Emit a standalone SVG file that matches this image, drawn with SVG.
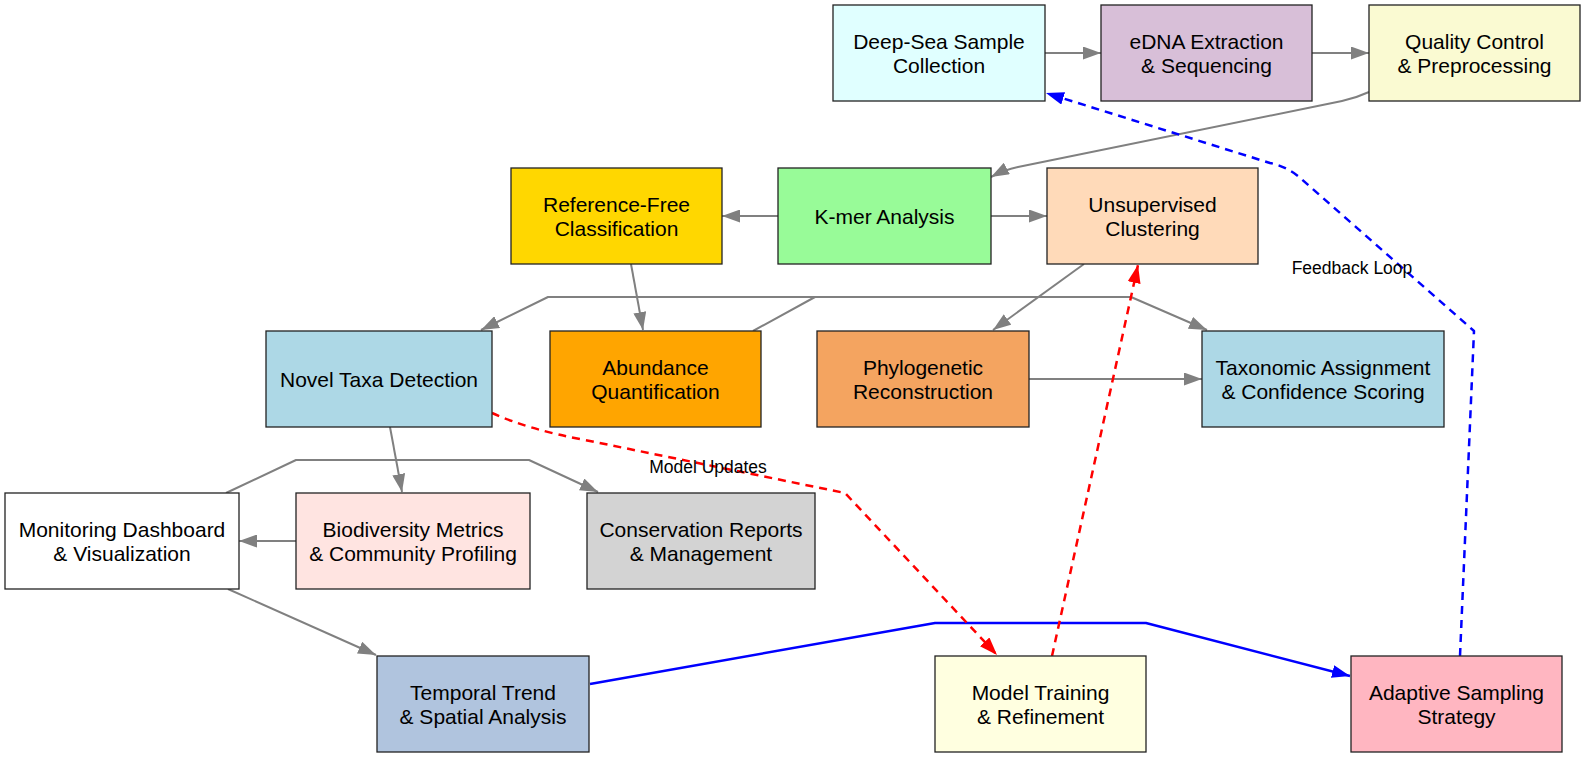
<svg xmlns="http://www.w3.org/2000/svg" width="1586" height="757" viewBox="0 0 1586 757">
<style>
.n rect{stroke:#222;stroke-width:1.3}
.n text{font-family:"Liberation Sans",Arial,sans-serif;font-size:21px;fill:#000;text-anchor:middle}
.e{fill:none;stroke-linejoin:round}
.g{stroke:#808080;stroke-width:2}
.b{stroke:#0000ff;stroke-width:2.5}
.r{stroke:#ff0000;stroke-width:2.5}
.d{stroke-dasharray:8,6}
.lbl{font-family:"Liberation Sans",Arial,sans-serif;font-size:17.5px;fill:#000;text-anchor:middle}
</style>
<defs>
<marker id="ag" markerUnits="userSpaceOnUse" markerWidth="19" markerHeight="13" refX="18" refY="6.5" orient="auto"><path d="M0,0 L18,6.5 L0,13 z" fill="#808080"/></marker>
<marker id="ab" markerUnits="userSpaceOnUse" markerWidth="19" markerHeight="13" refX="18" refY="6.5" orient="auto"><path d="M0,0 L18,6.5 L0,13 z" fill="#0000ff"/></marker>
<marker id="ar" markerUnits="userSpaceOnUse" markerWidth="19" markerHeight="13" refX="18" refY="6.5" orient="auto"><path d="M0,0 L18,6.5 L0,13 z" fill="#ff0000"/></marker>
</defs>
<rect width="1586" height="757" fill="#fff"/>
<g id="edges">
<path class="e g" d="M1045,53 L1101,53" marker-end="url(#ag)"/>
<path class="e g" d="M1312,53 L1369,53" marker-end="url(#ag)"/>
<path class="e g" d="M1369,92 Q1356,98 1342,101 L1018,167 Q1004,170 991,177" marker-end="url(#ag)"/>
<path class="e g" d="M778,216 L722,216" marker-end="url(#ag)"/>
<path class="e g" d="M991,216 L1047,216" marker-end="url(#ag)"/>
<path class="e g" d="M631,264 L643,330" marker-end="url(#ag)"/>
<path class="e g" d="M753,331 L815,297 L548,297 L481,330" marker-end="url(#ag)"/>
<path class="e g" d="M815,297 L1131,297 L1207,330" marker-end="url(#ag)"/>
<path class="e g" d="M1084,264 L993,330" marker-end="url(#ag)"/>
<path class="e g" d="M1029,379 L1202,379" marker-end="url(#ag)"/>
<path class="e g" d="M390,427 L402,492" marker-end="url(#ag)"/>
<path class="e g" d="M226,493 L296,460 L529,460 L598,492" marker-end="url(#ag)"/>
<path class="e g" d="M296,541 L239,541" marker-end="url(#ag)"/>
<path class="e g" d="M228,589 L376,655" marker-end="url(#ag)"/>
<path class="e b" d="M590,684 L935,623 L1146,623 L1350,676" marker-end="url(#ab)"/>
<path class="e r d" d="M492,413 Q530,430 585,440 L845,493 L997,655" marker-end="url(#ar)"/>
<path class="e r d" d="M1052,656 L1138,265" marker-end="url(#ar)"/>
<path class="e b d" d="M1460,656 L1474,331 L1298,176 Q1285,166 1270,163 L1046,93" marker-end="url(#ab)"/>
<text class="lbl" x="708" y="473">Model Updates</text>
<text class="lbl" x="1352" y="274">Feedback Loop</text>
</g>
<g id="n1" class="n"><rect x="833" y="5" width="212" height="96" fill="#e0ffff"/><text x="939" y="48.5">Deep-Sea Sample</text><text x="939" y="72.5">Collection</text></g>
<g id="n2" class="n"><rect x="1101" y="5" width="211" height="96" fill="#d8bfd8"/><text x="1206.5" y="48.5">eDNA Extraction</text><text x="1206.5" y="72.5">&amp; Sequencing</text></g>
<g id="n3" class="n"><rect x="1369" y="5" width="211" height="96" fill="#fafad2"/><text x="1474.5" y="48.5">Quality Control</text><text x="1474.5" y="72.5">&amp; Preprocessing</text></g>
<g id="n4" class="n"><rect x="511" y="168" width="211" height="96" fill="#ffd700"/><text x="616.5" y="211.5">Reference-Free</text><text x="616.5" y="235.5">Classification</text></g>
<g id="n5" class="n"><rect x="778" y="168" width="213" height="96" fill="#98fb98"/><text x="884.5" y="223.5">K-mer Analysis</text></g>
<g id="n6" class="n"><rect x="1047" y="168" width="211" height="96" fill="#ffdab9"/><text x="1152.5" y="211.5">Unsupervised</text><text x="1152.5" y="235.5">Clustering</text></g>
<g id="n7" class="n"><rect x="266" y="331" width="226" height="96" fill="#add8e6"/><text x="379" y="386.5">Novel Taxa Detection</text></g>
<g id="n8" class="n"><rect x="550" y="331" width="211" height="96" fill="#ffa500"/><text x="655.5" y="374.5">Abundance</text><text x="655.5" y="398.5">Quantification</text></g>
<g id="n9" class="n"><rect x="817" y="331" width="212" height="96" fill="#f4a460"/><text x="923" y="374.5">Phylogenetic</text><text x="923" y="398.5">Reconstruction</text></g>
<g id="n10" class="n"><rect x="1202" y="331" width="242" height="96" fill="#add8e6"/><text x="1323" y="374.5">Taxonomic Assignment</text><text x="1323" y="398.5">&amp; Confidence Scoring</text></g>
<g id="n11" class="n"><rect x="5" y="493" width="234" height="96" fill="#ffffff"/><text x="122" y="536.5">Monitoring Dashboard</text><text x="122" y="560.5">&amp; Visualization</text></g>
<g id="n12" class="n"><rect x="296" y="493" width="234" height="96" fill="#ffe4e1"/><text x="413" y="536.5">Biodiversity Metrics</text><text x="413" y="560.5">&amp; Community Profiling</text></g>
<g id="n13" class="n"><rect x="587" y="493" width="228" height="96" fill="#d3d3d3"/><text x="701" y="536.5">Conservation Reports</text><text x="701" y="560.5">&amp; Management</text></g>
<g id="n14" class="n"><rect x="377" y="656" width="212" height="96" fill="#b0c4de"/><text x="483" y="699.5">Temporal Trend</text><text x="483" y="723.5">&amp; Spatial Analysis</text></g>
<g id="n15" class="n"><rect x="935" y="656" width="211" height="96" fill="#ffffe0"/><text x="1040.5" y="699.5">Model Training</text><text x="1040.5" y="723.5">&amp; Refinement</text></g>
<g id="n16" class="n"><rect x="1351" y="656" width="211" height="96" fill="#ffb6c1"/><text x="1456.5" y="699.5">Adaptive Sampling</text><text x="1456.5" y="723.5">Strategy</text></g>
</svg>
